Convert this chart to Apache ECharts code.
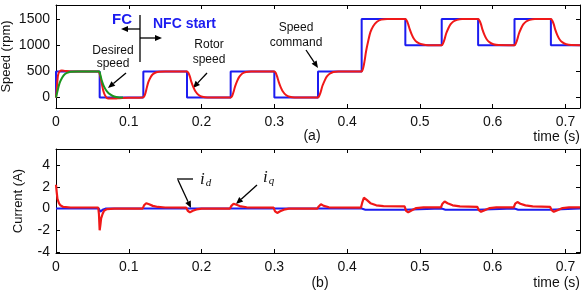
<!DOCTYPE html>
<html>
<head>
<meta charset="utf-8">
<script src="https://cdn.jsdelivr.net/npm/echarts@6/dist/echarts.min.js"></script>
<style>
html,body{margin:0;padding:0;background:#fff}
#main{width:588px;height:291px}
</style>
</head>
<body>
<div id="main"></div>
<script>
// speed command (rpm), value holds from the given time until the next one
const cmdTimes = [0, 0, 0.06, 0.12, 0.18, 0.24, 0.30, 0.36, 0.42, 0.48, 0.53, 0.58, 0.63, 0.68, 0.72]
const cmdLevels = [0, 500, 0, 500, 0, 500, 0, 500, 1500, 1000, 1500, 1000, 1500, 1000, 1000]

// desired speed (reference model), only shown in the FC part
const desiredSpeed = [
  [0, 0], [0.002, 120], [0.005, 280], [0.008, 370], [0.011, 430], [0.015, 470], [0.02, 493], [0.03, 500],
  [0.059, 500], [0.061, 430], [0.063, 320], [0.066, 210], [0.07, 120], [0.075, 55], [0.08, 20], [0.087, 3], [0.092, 0]
]

// rotor speed (rpm)
const rotorSpeed = [
  [0, 0], [0.001, 150], [0.002, 330], [0.003, 440], [0.005, 500], [0.008, 515], [0.012, 510], [0.02, 500], [0.058, 500],
  [0.059, 490], [0.061, 400], [0.063, 260], [0.065, 130], [0.067, 50], [0.07, -10], [0.075, -20], [0.085, -15], [0.1, -5], [0.119, 0],
  [0.121, 20], [0.123, 90], [0.125, 200], [0.127, 300], [0.13, 390], [0.133, 445], [0.137, 480], [0.142, 495], [0.15, 500], [0.179, 500],
  [0.18, 500], [0.182, 470], [0.184, 400], [0.186, 300], [0.189, 190], [0.192, 110], [0.196, 50], [0.201, 15], [0.208, 0], [0.239, 0],
  [0.24, 0], [0.242, 30], [0.244, 110], [0.246, 210], [0.249, 320], [0.252, 400], [0.256, 460], [0.261, 490], [0.268, 500], [0.299, 500],
  [0.3, 500], [0.302, 470], [0.304, 395], [0.306, 300], [0.309, 190], [0.312, 110], [0.316, 50], [0.321, 15], [0.328, 0], [0.359, 0],
  [0.36, 0], [0.362, 40], [0.364, 120], [0.366, 220], [0.369, 320], [0.372, 400], [0.376, 455], [0.381, 490], [0.388, 500], [0.419, 500],
  [0.42, 500], [0.422, 560], [0.424, 700], [0.426, 880], [0.429, 1080], [0.432, 1250], [0.436, 1370], [0.441, 1450], [0.447, 1490], [0.455, 1500], [0.479, 1500],
  [0.48, 1500], [0.482, 1470], [0.484, 1400], [0.486, 1310], [0.489, 1200], [0.492, 1120], [0.496, 1060], [0.501, 1025], [0.508, 1005], [0.515, 1000], [0.529, 1000],
  [0.53, 1000], [0.532, 1040], [0.534, 1120], [0.536, 1220], [0.539, 1320], [0.542, 1400], [0.546, 1455], [0.551, 1485], [0.558, 1500], [0.579, 1500],
  [0.58, 1500], [0.582, 1470], [0.584, 1400], [0.586, 1300], [0.589, 1190], [0.592, 1110], [0.596, 1055], [0.601, 1020], [0.608, 1003], [0.629, 1000],
  [0.63, 1000], [0.632, 1040], [0.634, 1120], [0.636, 1220], [0.639, 1320], [0.642, 1400], [0.646, 1455], [0.651, 1485], [0.658, 1500], [0.679, 1500],
  [0.68, 1500], [0.682, 1470], [0.684, 1400], [0.686, 1300], [0.689, 1190], [0.692, 1110], [0.696, 1055], [0.701, 1020], [0.708, 1003], [0.72, 1000]
]

// currents (A)
const idCurrent = [
  [0, 0], [0.059, 0], [0.061, -0.3], [0.064, -0.1], [0.068, 0], [0.42, 0], [0.425, -0.1], [0.478, -0.1], [0.48, 0],
  [0.53, 0], [0.535, -0.1], [0.578, -0.1], [0.58, 0], [0.63, 0], [0.635, -0.1], [0.678, -0.1], [0.68, 0], [0.72, 0]
]
const iqCurrent = [
  [0, 2.2], [0.001, 1.5], [0.002, 0.9], [0.004, 0.5], [0.006, 0.3], [0.01, 0.15], [0.02, 0.1], [0.058, 0.1],
  [0.059, -0.5], [0.06, -2.0], [0.061, -1.5], [0.062, -0.9], [0.064, -0.5], [0.066, -0.2], [0.07, -0.05], [0.08, 0], [0.119, 0],
  [0.121, 0.3], [0.124, 0.5], [0.128, 0.4], [0.133, 0.25], [0.14, 0.15], [0.15, 0.1], [0.179, 0.08],
  [0.181, -0.2], [0.184, -0.35], [0.188, -0.2], [0.193, -0.08], [0.2, 0], [0.239, 0],
  [0.241, 0.25], [0.244, 0.45], [0.248, 0.35], [0.254, 0.2], [0.262, 0.12], [0.299, 0.08],
  [0.301, -0.25], [0.304, -0.4], [0.308, -0.25], [0.313, -0.1], [0.32, 0], [0.359, 0],
  [0.361, 0.2], [0.364, 0.4], [0.368, 0.25], [0.375, 0.12], [0.419, 0.08],
  [0.421, 0.6], [0.423, 1.0], [0.427, 0.8], [0.432, 0.5], [0.44, 0.3], [0.45, 0.22], [0.479, 0.2],
  [0.481, -0.2], [0.484, -0.35], [0.489, -0.15], [0.495, 0.05], [0.505, 0.12], [0.529, 0.12],
  [0.531, 0.45], [0.534, 0.65], [0.538, 0.5], [0.545, 0.3], [0.555, 0.2], [0.579, 0.15],
  [0.581, -0.15], [0.584, -0.3], [0.589, -0.15], [0.596, 0.05], [0.605, 0.12], [0.629, 0.12],
  [0.631, 0.45], [0.634, 0.6], [0.638, 0.45], [0.645, 0.3], [0.655, 0.2], [0.679, 0.15],
  [0.681, -0.15], [0.684, -0.3], [0.689, -0.15], [0.696, 0.05], [0.705, 0.12], [0.72, 0.12]
]

const speedTicks = [0, 500, 1000, 1500]
const currentTicks = [-4, -2, 0, 2, 4]

const FONT = 'Liberation Sans, Arial, sans-serif'
const BLUE = '#1c1cf0'
const RED = '#f01818'
const GREEN = '#1a961e'

const cmdData = cmdTimes.map((t, i) => [t, cmdLevels[i]])

// x axis pair (bottom with labels, top with ticks only)
const xPair = grid => [
  {
    type: 'value', gridIndex: grid, min: 0, max: 0.72, interval: 0.1, position: 'bottom',
    axisLine: {onZero: false, lineStyle: {color: '#000', width: 1}},
    axisTick: {inside: true, length: 4, lineStyle: {color: '#000'}},
    axisLabel: {color: '#111', fontSize: 14, fontFamily: FONT, margin: 7,
      formatter: v => (v > 0.715 ? '' : String(+v.toFixed(1)))},
    splitLine: {show: false}
  },
  {
    type: 'value', gridIndex: grid, min: 0, max: 0.72, interval: 0.1, position: 'top',
    axisLine: {onZero: false, lineStyle: {color: '#000', width: 1}},
    axisTick: {inside: true, length: 4, lineStyle: {color: '#000'}},
    axisLabel: {show: false}, splitLine: {show: false}
  }
]

const yPair = (grid, min, max, ticks, name, gap) => [
  {
    type: 'value', gridIndex: grid, min: min, max: max, position: 'left',
    name: name, nameLocation: 'middle', nameRotate: 90, nameGap: gap, nameMoveOverlap: false,
    nameTextStyle: {fontSize: 13, fontFamily: FONT, color: '#111'},
    axisLine: {onZero: false, lineStyle: {color: '#000', width: 1}},
    axisTick: {inside: true, length: 4, customValues: ticks, lineStyle: {color: '#000'}},
    axisLabel: {customValues: ticks, color: '#111', fontSize: 14, fontFamily: FONT, margin: 6,
      formatter: v => String(v)},
    splitLine: {show: false}
  },
  {
    type: 'value', gridIndex: grid, min: min, max: max, position: 'right',
    axisLine: {onZero: false, lineStyle: {color: '#000', width: 1}},
    axisTick: {inside: true, length: 4, customValues: ticks, lineStyle: {color: '#000'}},
    axisLabel: {show: false}, splitLine: {show: false}
  }
]

// simple annotation arrow: line plus filled head at (x2, y2)
const arrow = (x1, y1, x2, y2) => {
  const a = Math.atan2(y2 - y1, x2 - x1)
  const L = 7, W = 3
  const bx = x2 - L * Math.cos(a), by = y2 - L * Math.sin(a)
  const nx = -Math.sin(a) * W, ny = Math.cos(a) * W
  return [
    {type: 'line', shape: {x1: x1, y1: y1, x2: bx, y2: by}, style: {stroke: '#000', lineWidth: 1.3}},
    {type: 'polygon', shape: {points: [[x2, y2], [bx + nx, by + ny], [bx - nx, by - ny]]}, style: {fill: '#000'}}
  ]
}

const label = (x, y, text, extra) => ({
  type: 'text', x: x, y: y,
  style: Object.assign({text: text, fontSize: 12, fontFamily: FONT, fill: '#111',
    align: 'center', verticalAlign: 'middle'}, extra || {})
})

const subLabel = (x, y, sub) => ({
  type: 'text', x: x, y: y, style: {
    text: '{i|i}{s|' + sub + '}', rich: {
      i: {fontSize: 17, fontStyle: 'italic', fontFamily: 'Liberation Serif, serif', fill: '#111'},
      s: {fontSize: 11, fontStyle: 'italic', fontFamily: 'Liberation Serif, serif', fill: '#111', padding: [8, 0, 0, 1]}
    }}
})

const chart = echarts.init(document.getElementById('main'))

chart.setOption({
  animation: false,
  backgroundColor: '#fff',
  grid: [
    {left: 56, right: 8, top: 5, height: 103, outerBoundsMode: 'none', containLabel: false},
    {left: 56, right: 8, top: 149, height: 104, outerBoundsMode: 'none', containLabel: false}
  ],
  xAxis: [...xPair(0), ...xPair(1)],
  yAxis: [
    ...yPair(0, -200, 1770, speedTicks, 'Speed (rpm)', 43),
    ...yPair(1, -4.1, 5.5, currentTicks, 'Current (A)', 31)
  ],
  series: [
    {type: 'line', xAxisIndex: 0, yAxisIndex: 0, data: cmdData, step: 'end', showSymbol: false,
      lineStyle: {color: BLUE, width: 2}},
    {type: 'line', xAxisIndex: 0, yAxisIndex: 0, data: rotorSpeed, showSymbol: false, smooth: 0.3,
      lineStyle: {color: RED, width: 2}},
    {type: 'line', xAxisIndex: 0, yAxisIndex: 0, data: desiredSpeed, showSymbol: false, smooth: 0.3,
      lineStyle: {color: GREEN, width: 2}},
    {type: 'line', xAxisIndex: 2, yAxisIndex: 2, data: idCurrent, showSymbol: false,
      lineStyle: {color: BLUE, width: 2}},
    {type: 'line', xAxisIndex: 2, yAxisIndex: 2, data: iqCurrent, showSymbol: false,
      lineStyle: {color: RED, width: 2.2}}
  ],
  graphic: [
    // FC / NFC start marker
    {type: 'line', shape: {x1: 140, y1: 15, x2: 140, y2: 62}, style: {stroke: '#000', lineWidth: 1.3}},
    ...arrow(140, 29, 121, 29),
    ...arrow(140, 38, 162, 38),
    label(122, 20, 'FC', {fontSize: 15, fontWeight: 'bold', fill: BLUE}),
    label(153, 24, 'NFC start', {fontSize: 14, fontWeight: 'bold', fill: BLUE, align: 'left'}),
    label(113, 51, 'Desired'),
    label(113, 64, 'speed'),
    ...arrow(126, 73, 108, 88),
    label(209, 45, 'Rotor'),
    label(209, 60, 'speed'),
    ...arrow(207, 73, 193, 88),
    label(296, 28, 'Speed'),
    label(296, 43, 'command'),
    ...arrow(306, 50, 318, 68),
    label(312, 136, '(a)', {fontSize: 14}),
    label(580, 137, 'time (s)', {fontSize: 14, align: 'right'}),
    // current annotations
    {type: 'line', shape: {x1: 177, y1: 179, x2: 193, y2: 179}, style: {stroke: '#000', lineWidth: 1.3}},
    ...arrow(178, 180, 191, 208),
    subLabel(200, 170, 'd'),
    ...arrow(257, 185, 236, 204),
    subLabel(263, 168, 'q'),
    label(320, 283, '(b)', {fontSize: 14}),
    label(580, 283, 'time (s)', {fontSize: 14, align: 'right'})
  ]
})
</script>
</body>
</html>
